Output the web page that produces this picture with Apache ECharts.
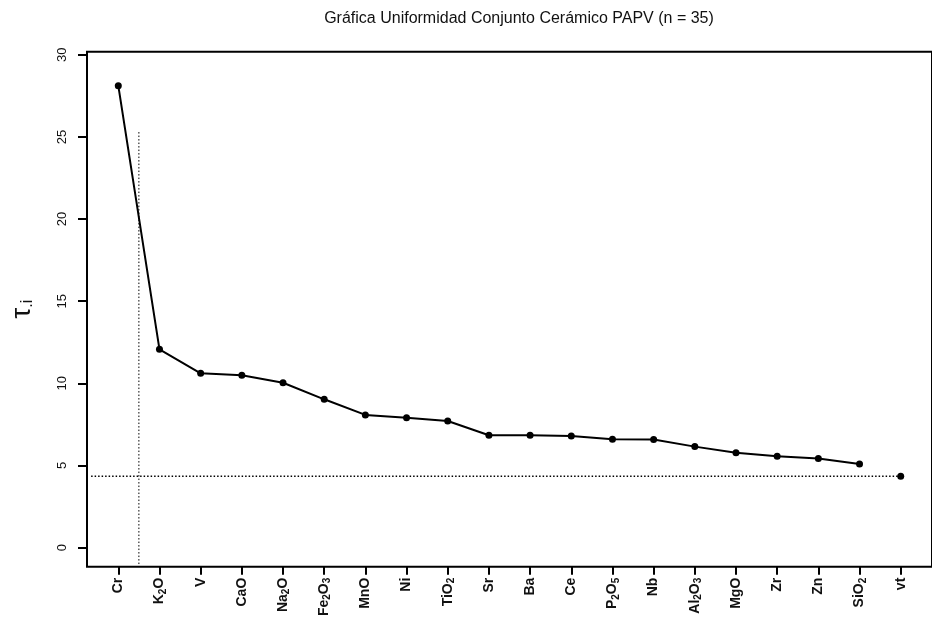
<!DOCTYPE html>
<html>
<head>
<meta charset="utf-8">
<script src="https://cdn.jsdelivr.net/npm/echarts@6/dist/echarts.min.js"></script>
<style>
  html, body { margin: 0; padding: 0; background: #fff; }
  #chart { width: 932px; height: 622px; }
</style>
</head>
<body>
<div id="chart"></div>
<script>
// Uniformity statistic per element, sorted from largest to smallest; "vt" is the reference value.
const elements = ['Cr', 'K2O', 'V', 'CaO', 'Na2O', 'Fe2O3', 'MnO', 'Ni', 'TiO2', 'Sr',
                  'Ba', 'Ce', 'P2O5', 'Nb', 'Al2O3', 'MgO', 'Zr', 'Zn', 'SiO2', 'vt'];
const tauValues = [28.12, 12.07, 10.61, 10.49, 10.04, 9.03, 8.08, 7.91, 7.71, 6.84,
                   6.84, 6.80, 6.60, 6.58, 6.15, 5.78, 5.56, 5.42, 5.09, 4.35];
const yTicks = [0, 5, 10, 15, 20, 25, 30];
// Cut position between the first and second element, and the top of its guide line
const cutX = 0.5;
const cutTop = 25.4;

const FONT = '"Liberation Sans", Arial, Helvetica, sans-serif';
const n = elements.length;
const vtIndex = n - 1;
const vtValue = tauValues[vtIndex];
const xIdx = elements.map((_, i) => i);

// chemical formulas: digits become subscripts
function formula(name) {
  return name.split(/(\d)/).filter(s => s.length)
    .map(s => /\d/.test(s) ? '{sub|' + s + '}' : '{b|' + s + '}').join('');
}

const connected = tauValues.slice(0, vtIndex).map((v, i) => [i, v]);

const chart = echarts.init(document.getElementById('chart'), null, { renderer: 'canvas' });
chart.setOption({
  backgroundColor: '#ffffff',
  animation: false,
  title: {
    text: 'Gráfica Uniformidad Conjunto Cerámico PAPV (n = 35)',
    left: 514,
    top: 6,
    textAlign: 'center',
    textStyle: { fontFamily: FONT, fontSize: 16, fontWeight: 'normal', color: '#111' }
  },
  grid: {
    left: 86.7,
    top: 51.7,
    width: 855.7,
    height: 515,
    show: true,
    borderColor: '#000',
    borderWidth: 2,
    containLabel: false
  },
  xAxis: {
    type: 'value',
    min: -0.76,
    max: 19.76,
    splitLine: { show: false },
    axisLine: { show: false, onZero: false },
    axisTick: {
      show: true, length: 8, inside: false,
      customValues: xIdx,
      lineStyle: { color: '#000', width: 2 }
    },
    axisLabel: {
      customValues: xIdx,
      rotate: 90,
      margin: 11,
      formatter: (v) => formula(elements[Math.round(v)]),
      rich: {
        b: { fontFamily: FONT, fontSize: 14, fontWeight: 'bold', color: '#111', lineHeight: 15 },
        sub: { fontFamily: FONT, fontSize: 10, fontWeight: 'bold', color: '#111', lineHeight: 10, padding: [7, 0, 0, 0] }
      }
    }
  },
  yAxis: {
    type: 'value',
    min: -1.16,
    max: 30.19,
    splitLine: { show: false },
    axisLine: { show: false, onZero: false },
    axisTick: {
      show: true, length: 9,
      customValues: yTicks,
      lineStyle: { color: '#000', width: 2 }
    },
    axisLabel: {
      customValues: yTicks,
      rotate: 90,
      margin: 18,
      fontFamily: FONT,
      fontSize: 13,
      color: '#111'
    },
    name: '{t|τ}{s|.i}',
    nameLocation: 'middle',
    nameRotate: 90,
    nameGap: 51,
    nameTextStyle: {
      rich: {
        t: { fontFamily: FONT, fontSize: 28, color: '#111', lineHeight: 28 },
        s: { fontFamily: FONT, fontSize: 16, color: '#111', lineHeight: 16, padding: [12, 0, 0, 0] }
      }
    }
  },
  series: [
    {
      name: 'tau',
      type: 'line',
      data: connected,
      symbol: 'circle',
      symbolSize: 7,
      itemStyle: { color: '#000' },
      lineStyle: { color: '#000', width: 2 },
      z: 5
    },
    {
      name: 'vt',
      type: 'scatter',
      data: [[vtIndex, vtValue]],
      symbol: 'circle',
      symbolSize: 7,
      itemStyle: { color: '#000', opacity: 1 },
      z: 5
    },
    {
      name: 'vt level',
      type: 'line',
      data: [[-0.66, vtValue], [vtIndex, vtValue]],
      symbol: 'none',
      lineStyle: { color: '#000', width: 1.5, type: [1.5, 2] },
      z: 3
    },
    {
      name: 'cut',
      type: 'line',
      data: [[cutX, -1.0], [cutX, cutTop]],
      symbol: 'none',
      lineStyle: { color: '#000', width: 1, type: [1.5, 2] },
      z: 3
    }
  ]
});
</script>
</body>
</html>
